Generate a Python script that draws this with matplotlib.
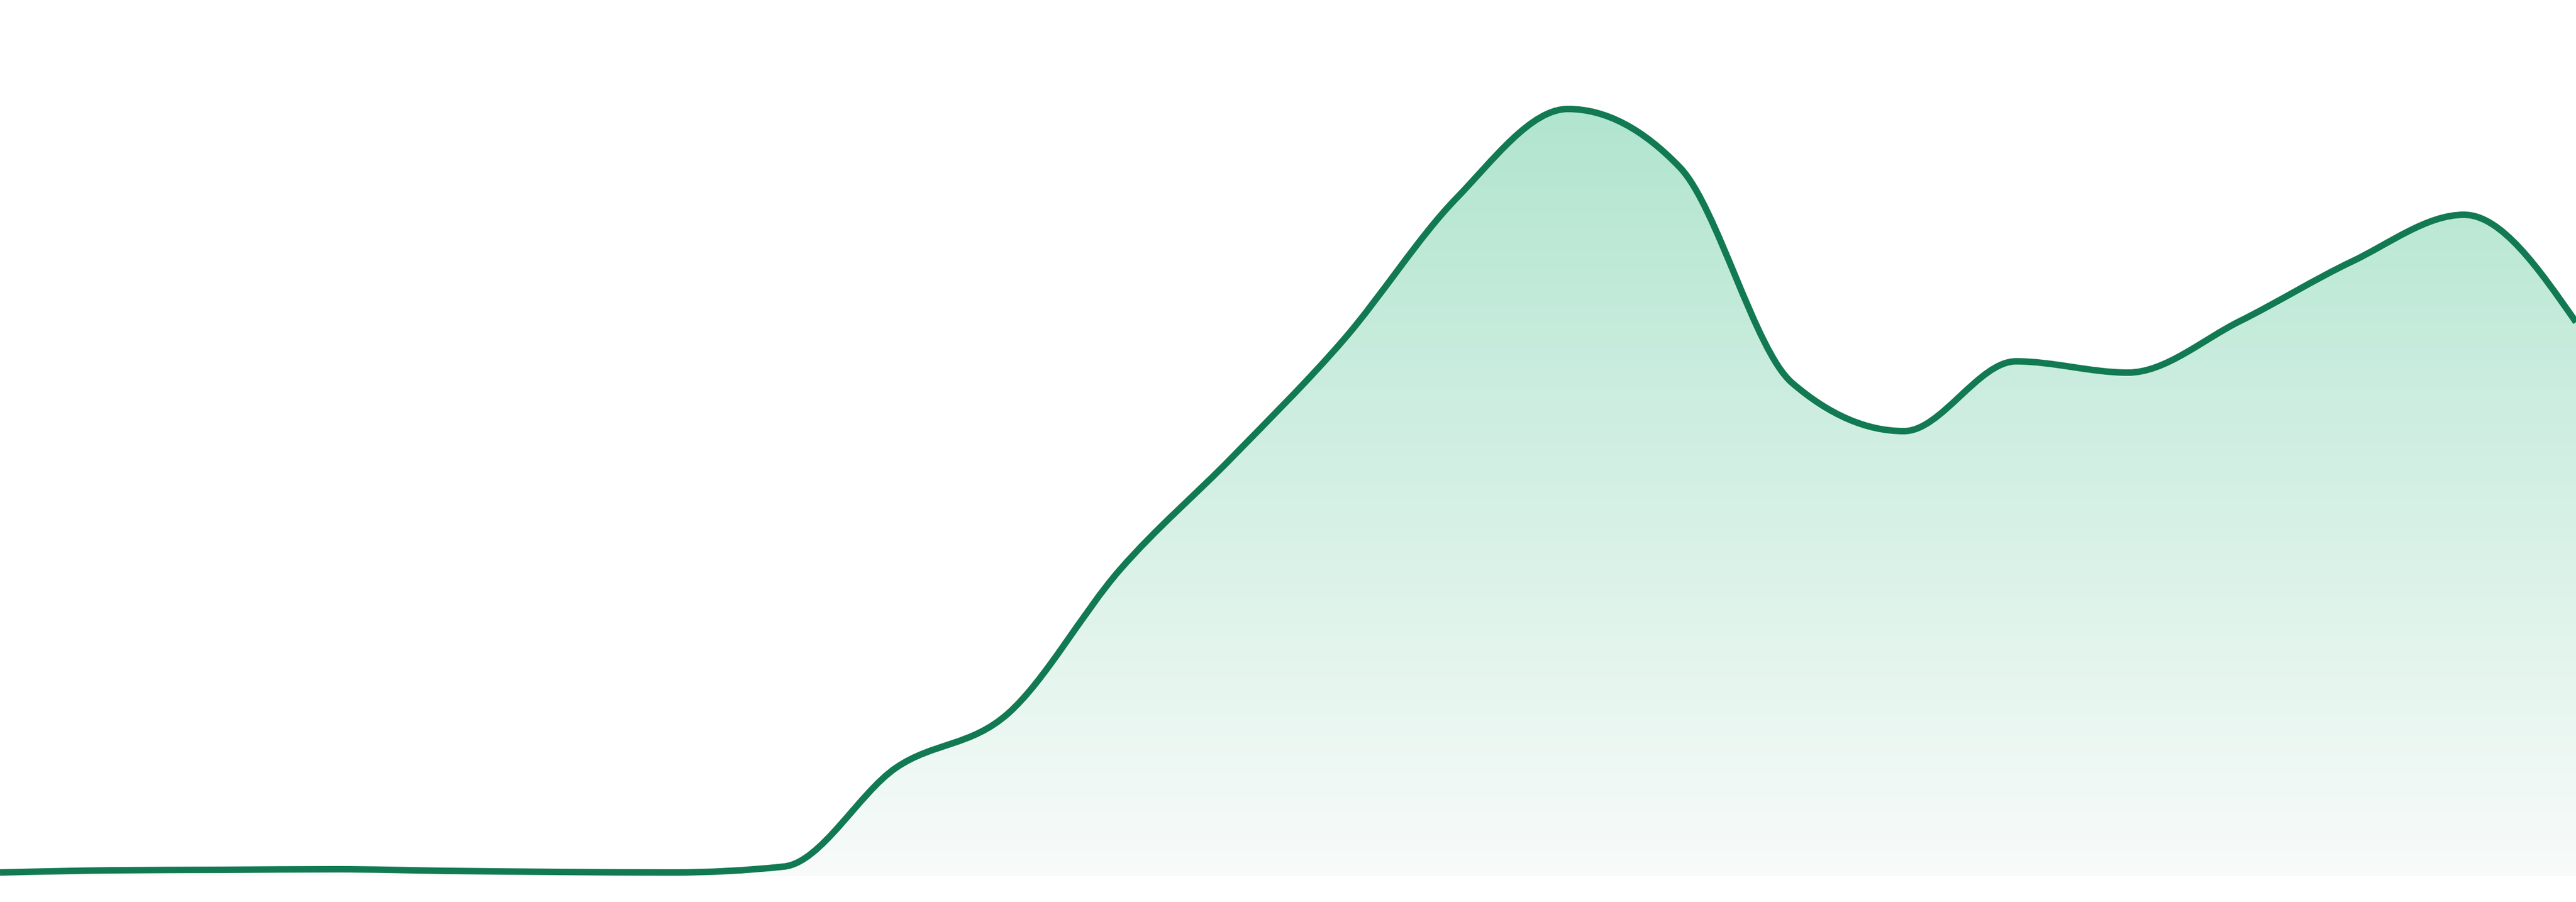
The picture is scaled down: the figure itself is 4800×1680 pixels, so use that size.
import numpy as np
import matplotlib
matplotlib.use("Agg")
import matplotlib.pyplot as plt
from matplotlib.path import Path
from matplotlib.patches import PathPatch
from matplotlib.colors import LinearSegmentedColormap

# one sample per step
steps = list(range(24))
values = [0.7, 1.1, 1.2, 1.3, 1.0, 0.8, 0.7, 1.8, 20.2, 30.3, 57.1, 78.0,
          100.0, 126.2, 142.9, 132.0, 91.9, 82.9, 95.9, 93.8, 103.4, 114.5, 123.2, 103.2]

line_color = "#127a52"
fill_top = "#b1e5cf"
fill_bottom = "#f8fbfa"


def monotone_path(x, y):
    # tangents like d3.curveMonotoneX, turned into bezier segments
    x = np.asarray(x, float)
    y = np.asarray(y, float)
    h = np.diff(x)
    s = np.diff(y) / h
    t = np.zeros_like(y)
    for i in range(1, len(y) - 1):
        p = (s[i - 1] * h[i] + s[i] * h[i - 1]) / (h[i - 1] + h[i])
        t[i] = (np.sign(s[i - 1]) + np.sign(s[i])) * min(abs(s[i - 1]), abs(s[i]), 0.5 * abs(p))
    t[0] = (3 * s[0] - t[1]) / 2
    t[-1] = (3 * s[-1] - t[-2]) / 2
    verts = [(x[0], y[0])]
    codes = [Path.MOVETO]
    for i in range(len(x) - 1):
        dx = h[i] / 3
        verts += [(x[i] + dx, y[i] + dx * t[i]),
                  (x[i + 1] - dx, y[i + 1] - dx * t[i + 1]),
                  (x[i + 1], y[i + 1])]
        codes += [Path.CURVE4] * 3
    return verts, codes


fig = plt.figure(figsize=(16, 5.6), dpi=300)
ax = fig.add_axes([0, 48 / 1680, 1, 1632 / 1680])
ax.set_xlim(steps[0], steps[-1])
ax.set_ylim(0, 163.2)
ax.axis("off")

verts, codes = monotone_path(steps, values)

# area under the curve, used to clip the gradient
area_verts = verts + [(steps[-1], 0), (steps[0], 0), (steps[0], values[0])]
area_codes = codes + [Path.LINETO, Path.LINETO, Path.CLOSEPOLY]
area = PathPatch(Path(area_verts, area_codes), facecolor="none", edgecolor="none")
ax.add_patch(area)

cmap = LinearSegmentedColormap.from_list("fade", [fill_bottom, fill_top])
grad = np.linspace(0, 1, 256).reshape(-1, 1)
img = ax.imshow(grad, cmap=cmap, aspect="auto", origin="lower",
                extent=[steps[0], steps[-1], 0, max(values)], zorder=1)
img.set_clip_path(area)

line = PathPatch(Path(verts, codes), fill=False, edgecolor=line_color,
                 linewidth=2.9, joinstyle="round", zorder=2)
ax.add_patch(line)

fig.savefig("out.png", dpi=300)
